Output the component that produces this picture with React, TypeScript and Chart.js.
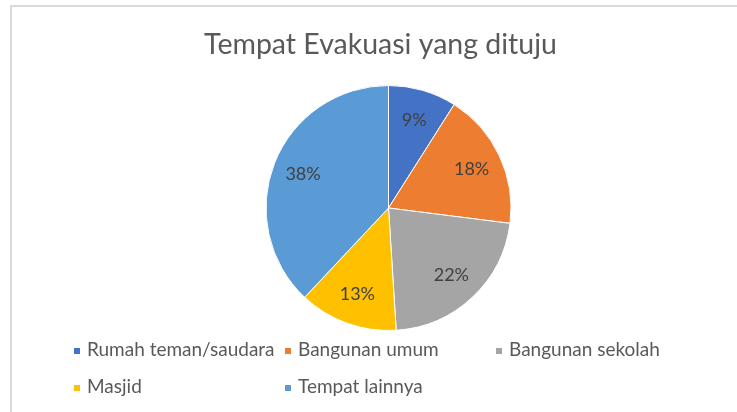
import React, { useEffect, useRef } from "react";
import { Chart, registerables } from "chart.js";

Chart.register(...registerables);

const chartTitle = "Tempat Evakuasi yang dituju";
const categories = [
  "Rumah teman/saudara",
  "Bangunan umum",
  "Bangunan sekolah",
  "Masjid",
  "Tempat lainnya",
];
const values = [9, 18, 22, 13, 38];
const sliceColors = ["#4472C4", "#ED7D31", "#A5A5A5", "#FFC000", "#5B9BD5"];

// legend grid (style only)
const legendCols = [74, 285, 496];
const legendRows = [356, 393];
const legendPerRow = 3;

const FONT = "Lato, 'Open Sans', sans-serif";

const decorPlugin = {
  id: "decor",
  beforeDraw(chart: any) {
    const ctx = chart.ctx;
    ctx.save();
    ctx.fillStyle = "#ffffff";
    ctx.fillRect(0, 0, chart.width, chart.height);
    ctx.strokeStyle = "#d9d9d9";
    ctx.lineWidth = 2;
    ctx.beginPath();
    ctx.moveTo(11, chart.height + 5);
    ctx.lineTo(11, 6);
    ctx.lineTo(chart.width + 5, 6);
    ctx.stroke();

    // title
    ctx.fillStyle = "#595959";
    ctx.font = `28.5px ${FONT}`;
    ctx.textAlign = "center";
    ctx.textBaseline = "alphabetic";
    ctx.fillText(chartTitle, 380.5, 54);
    ctx.restore();
  },
  afterDatasetsDraw(chart: any) {
    const ctx = chart.ctx;
    const meta = chart.getDatasetMeta(0);
    const total = values.reduce((a, b) => a + b, 0);
    ctx.save();
    ctx.fillStyle = "#404040";
    ctx.font = `18px ${FONT}`;
    ctx.textAlign = "center";
    ctx.textBaseline = "middle";
    meta.data.forEach((arc: any, i: number) => {
      const p = arc.getProps(["x", "y", "startAngle", "endAngle", "outerRadius"], true);
      const mid = (p.startAngle + p.endAngle) / 2;
      const r = p.outerRadius * 0.75;
      const pct = Math.round((values[i] / total) * 100) + "%";
      ctx.fillText(pct, p.x + Math.cos(mid) * r, p.y + Math.sin(mid) * r);
    });

    // legend
    ctx.font = `19px ${FONT}`;
    ctx.textAlign = "left";
    ctx.textBaseline = "alphabetic";
    categories.forEach((label, i) => {
      const col = i % legendPerRow;
      const row = Math.floor(i / legendPerRow);
      const x = legendCols[col];
      const y = legendRows[row];
      ctx.fillStyle = sliceColors[i];
      ctx.fillRect(x, y - 8, 6, 6);
      ctx.fillStyle = "#595959";
      ctx.fillText(label, x + 13, y);
    });
    ctx.restore();
  },
};

export default function App() {
  const ref = useRef<HTMLCanvasElement | null>(null);
  useEffect(() => {
    if (!ref.current) return;
    const chart = new Chart(ref.current, {
      type: "pie",
      data: {
        labels: categories,
        datasets: [
          {
            data: values,
            backgroundColor: sliceColors,
            borderColor: "#ffffff",
            borderWidth: 1,
          },
        ],
      },
      options: {
        animation: false,
        responsive: false,
        layout: { padding: { top: 85, bottom: 81, left: 200, right: 160 } },
        plugins: {
          legend: { display: false },
          title: { display: false },
          tooltip: { enabled: false },
        },
      },
      plugins: [decorPlugin],
    });
    return () => chart.destroy();
  }, []);
  return (
    <div style={{ position: "fixed", left: 0, top: 0, width: 737, height: 412, background: "#fff" }}>
      <canvas ref={ref} width={737} height={412} style={{ display: "block" }} />
    </div>
  );
}
